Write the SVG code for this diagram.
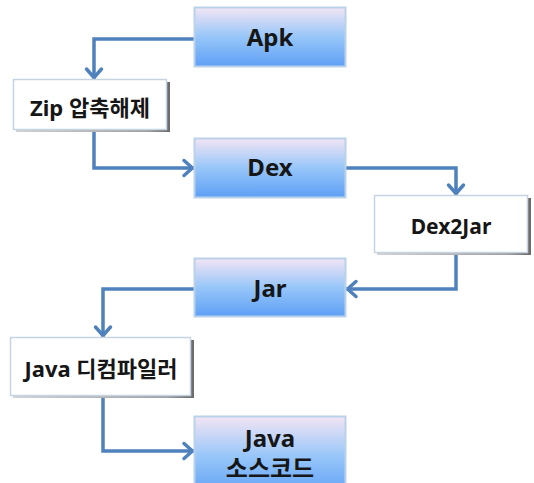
<svg xmlns="http://www.w3.org/2000/svg" width="534" height="483" viewBox="0 0 534 483">
  <defs>
    <linearGradient id="blueGrad" x1="0" y1="0" x2="0" y2="1">
      <stop offset="0" stop-color="#f3e5f4"/>
      <stop offset="0.5" stop-color="#97c6f9"/>
      <stop offset="1" stop-color="#5e9ff5"/>
    </linearGradient>
    <linearGradient id="shadowGrad" x1="0" y1="0" x2="1" y2="0">
      <stop offset="0" stop-color="#d2d2d2"/>
      <stop offset="0.85" stop-color="#a0a0a0"/>
      <stop offset="1" stop-color="#6a6a6a"/>
    </linearGradient>
    <marker id="arrow" markerUnits="userSpaceOnUse" markerWidth="24" markerHeight="24" refX="0" refY="0" orient="auto" overflow="visible">
      <path d="M-10,-7.5 L-1.5,0 L-10,7.5" fill="none" stroke="#4f81bd" stroke-width="3.5" stroke-linecap="round" stroke-linejoin="round"/>
    </marker>
  </defs>
  <style>
    .blue { fill: url(#blueGrad); stroke: #b9d2ea; stroke-width: 2; }
    .white { fill: #ffffff; stroke: #c6d4e2; stroke-width: 1.5; }
    .shadow { fill: url(#shadowGrad); }
    .conn { fill: none; stroke: #4f81bd; stroke-width: 3.5; stroke-linejoin: miter; marker-end: url(#arrow); }
    text { font-family: "Noto Sans", "Noto Sans CJK KR", sans-serif; font-weight: bold; fill: #161616; text-anchor: middle; }
    .big { font-size: 24px; }
    .small { font-size: 21px; }
    .kr { font-size: 22px; }
  </style>
  <rect width="534" height="483" fill="#ffffff"/>

  <g id="connectors">
    <path class="conn" d="M194,39 H94 V79"/>
    <path class="conn" d="M94,132 V168 H194"/>
    <path class="conn" d="M346,168 H456 V195"/>
    <path class="conn" d="M456,255 V289 H346"/>
    <path class="conn" d="M194,289 H103 V337"/>
    <path class="conn" d="M103,398 V451 H194"/>
  </g>

  <g id="apk">
    <rect class="blue" x="194.5" y="7.5" width="151" height="59"/>
    <text class="big" x="270" y="46">Apk</text>
  </g>

  <g id="zip">
    <rect class="shadow" x="16" y="82" width="154" height="50"/>
    <rect class="white" x="13.5" y="79.5" width="153" height="50"/>
    <text class="kr" x="90" y="116">Zip 압축해제</text>
  </g>

  <g id="dex">
    <rect class="blue" x="194.5" y="138.5" width="151" height="59"/>
    <text class="big" x="270" y="176">Dex</text>
  </g>

  <g id="dex2jar">
    <rect class="shadow" x="377" y="198" width="154" height="57"/>
    <rect class="white" x="374.5" y="195.5" width="153" height="57"/>
    <text class="small" x="451" y="234">Dex2Jar</text>
  </g>

  <g id="jar">
    <rect class="blue" x="194.5" y="258.5" width="151" height="58"/>
    <text class="big" x="270" y="297">Jar</text>
  </g>

  <g id="decompiler">
    <rect class="shadow" x="13" y="340" width="181" height="58"/>
    <rect class="white" x="10.5" y="337.5" width="180" height="58"/>
    <text class="kr" x="101" y="377">Java 디컴파일러</text>
  </g>

  <g id="source">
    <rect class="blue" x="194.5" y="416.5" width="151" height="80"/>
    <text class="big" x="270" y="447">Java</text>
    <text class="big" x="270" y="477">소스코드</text>
  </g>
</svg>
